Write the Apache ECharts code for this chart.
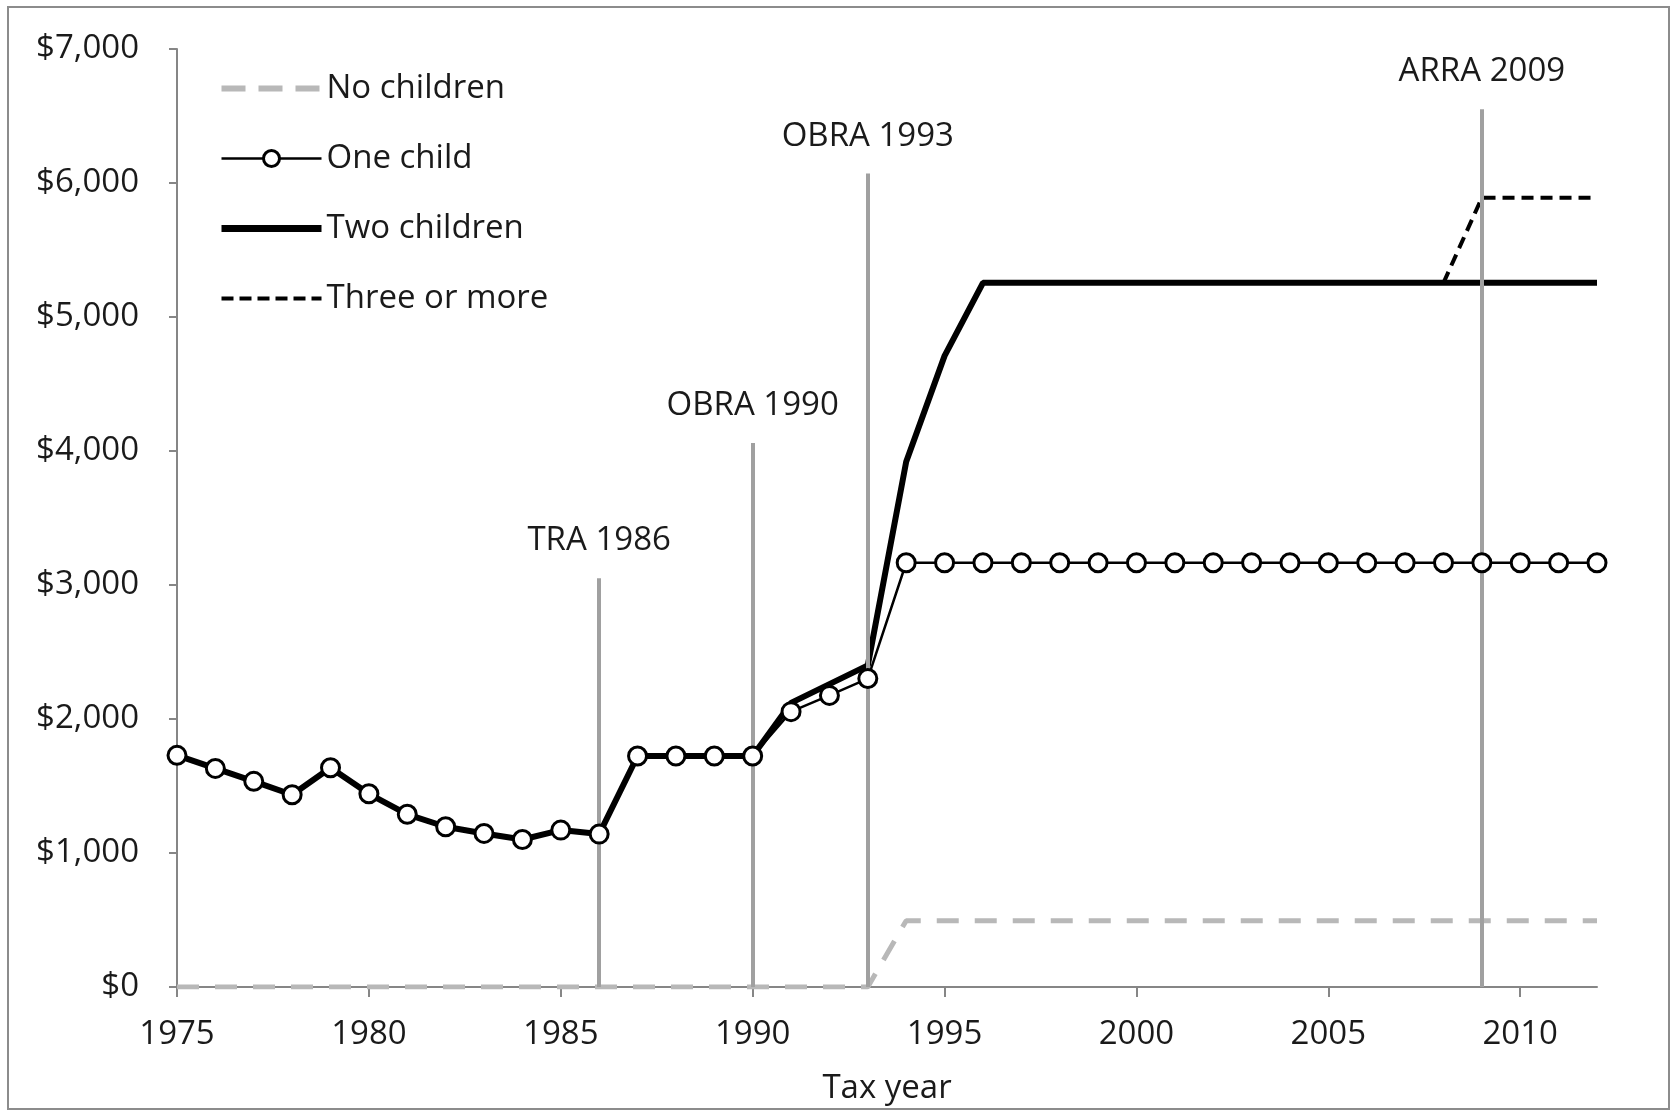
<!DOCTYPE html>
<html>
<head>
<meta charset="utf-8">
<title>EITC maximum credit by tax year</title>
<script src="https://cdn.jsdelivr.net/npm/echarts@6/dist/echarts.min.js"></script>
<style>
  html, body { margin: 0; padding: 0; background: #fff; }
  #main { width: 1675px; height: 1112px; }
</style>
</head>
<body>
<div id="main"></div>
<script>
// categories
let years = ["1975", "1976", "1977", "1978", "1979", "1980", "1981", "1982", "1983", "1984",
    "1985", "1986", "1987", "1988", "1989", "1990", "1991", "1992", "1993", "1994",
    "1995", "1996", "1997", "1998", "1999", "2000", "2001", "2002", "2003", "2004",
    "2005", "2006", "2007", "2008", "2009", "2010", "2011", "2012"];

// series values
let noChildren = [0, 0, 0, 0, 0, 0, 0, 0, 0, 0, 0, 0, 0, 0, 0, 0, 0, 0, 0,
    495, 495, 495, 495, 495, 495, 495, 495, 495, 495, 495, 495, 495, 495, 495, 495, 495, 495, 495];
let oneChild = [1729, 1631, 1535, 1435, 1636, 1442, 1289, 1196, 1146, 1101, 1171, 1141,
    1724, 1724, 1724, 1724, 2055, 2176, 2302,
    3166, 3166, 3166, 3166, 3166, 3166, 3166, 3166, 3166, 3166, 3166, 3166, 3166, 3166, 3166, 3166, 3166, 3166, 3166];
let twoChildren = [1729, 1631, 1535, 1435, 1636, 1442, 1289, 1196, 1146, 1101, 1171, 1141,
    1724, 1724, 1724, 1724, 2120, 2260, 2400, 3920, 4710,
    5255, 5255, 5255, 5255, 5255, 5255, 5255, 5255, 5255, 5255, 5255, 5255, 5255, 5255, 5255, 5255, 5255];
let threeOrMore = [null, null, null, null, null, null, null, null, null, null, null, null, null,
    null, null, null, null, null, null, null, null, null, null, null, null, null, null, null,
    null, null, null, null, null, 5255, 5890, 5890, 5890, 5890];

// legislation markers
let eventYears = ["1986", "1990", "1993", "2009"];
let eventTops = [3050, 4060, 6070, 6550];
let eventNames = ["TRA 1986", "OBRA 1990", "OBRA 1993", "ARRA 2009"];

// y axis ticks
let yMin = 0;
let yMax = 7000;
let yStep = 1000;

let font = "'Open Sans', 'DejaVu Sans', sans-serif";
let fontSize = 33;
let textColor = "#1a1a1a";
let axisGray = "#868686";

let dom = document.getElementById("main");
let myChart = echarts.init(dom, null, {
    renderer: "canvas",
    useDirtyRect: false,
});
let option;

let eventLines = eventYears.map(function (y, i) {
    return [
        { coord: [y, 0], name: eventNames[i] },
        { coord: [y, eventTops[i]] },
    ];
});

let everyFive = function (idx, val) {
    return Number(val) % 5 === 0;
};

option = {
    animation: false,
    backgroundColor: "#fff",
    textStyle: { fontFamily: font },
    graphic: [{
        type: "rect",
        shape: { x: 8, y: 7, width: 1661, height: 1102 },
        style: { fill: "none", stroke: "#8c8c8c", lineWidth: 2 },
        silent: true,
    }],
    grid: {
        left: 177,
        right: 78,
        top: 49,
        bottom: 125,
        outerBoundsMode: "none",
    },
    legend: {
        orient: "vertical",
        left: 213,
        top: 67,
        itemWidth: 100,
        itemHeight: 20,
        itemGap: 37,
        textStyle: { fontSize: fontSize, color: textColor, fontFamily: font },
        data: [
            {
                name: "No children",
                itemStyle: { opacity: 0 },
                lineStyle: { width: 6, color: "#b8b8b8", type: [24, 13] },
            },
            {
                name: "One child",
                itemStyle: { color: "#fff", borderColor: "#000", borderWidth: 3 },
                lineStyle: { width: 2.5, color: "#000" },
            },
            {
                name: "Two children",
                itemStyle: { opacity: 0 },
                lineStyle: { width: 7, color: "#000" },
            },
            {
                name: "Three or more",
                itemStyle: { opacity: 0 },
                lineStyle: { width: 4, color: "#000", type: [12, 6] },
            },
        ],
    },
    xAxis: {
        type: "category",
        data: years,
        boundaryGap: false,
        name: "Tax year",
        nameLocation: "middle",
        nameGap: 85,
        nameTextStyle: { fontSize: fontSize, color: textColor, fontFamily: font },
        axisLine: { lineStyle: { color: axisGray, width: 2 } },
        axisTick: {
            interval: everyFive,
            length: 10,
            lineStyle: { color: axisGray, width: 2 },
        },
        axisLabel: {
            interval: everyFive,
            margin: 31,
            fontSize: fontSize,
            color: textColor,
            fontFamily: font,
        },
        splitLine: { show: false },
    },
    yAxis: {
        type: "value",
        min: yMin,
        max: yMax,
        interval: yStep,
        axisLine: { show: true, lineStyle: { color: axisGray, width: 2 } },
        axisTick: { show: true, length: 8, lineStyle: { color: axisGray, width: 2 } },
        axisLabel: {
            margin: 38,
            fontSize: fontSize,
            color: textColor,
            fontFamily: font,
            formatter: function (v) {
                return "$" + v.toLocaleString("en-US");
            },
        },
        splitLine: { show: false },
    },
    series: [
        {
            name: "No children",
            type: "line",
            data: noChildren,
            symbol: "none",
            z: 2,
            color: "#b8b8b8",
            lineStyle: { color: "#b8b8b8", width: 5, type: [22, 16] },
        },
        {
            name: "Three or more",
            type: "line",
            data: threeOrMore,
            symbol: "none",
            z: 3,
            color: "#000",
            lineStyle: { color: "#000", width: 4, type: [12, 7] },
        },
        {
            name: "Two children",
            type: "line",
            data: twoChildren,
            symbol: "none",
            z: 4,
            color: "#000",
            lineStyle: { color: "#000", width: 6 },
        },
        {
            name: "One child",
            type: "line",
            data: oneChild,
            symbol: "circle",
            symbolSize: 18,
            z: 5,
            color: "#000",
            itemStyle: { color: "#fff", borderColor: "#000", borderWidth: 3 },
            lineStyle: { color: "#000", width: 2.5 },
        },
        {
            name: "Legislation",
            type: "line",
            data: [],
            z: 6,
            markLine: {
                silent: true,
                symbol: ["none", "none"],
                lineStyle: { color: "#a0a0a0", width: 4, type: "solid" },
                label: {
                    show: true,
                    position: "end",
                    distance: 21,
                    fontSize: fontSize,
                    color: textColor,
                    fontFamily: font,
                    formatter: function (p) {
                        return p.name;
                    },
                },
                data: eventLines,
            },
        },
    ],
};

if (option && typeof option === "object") {
    myChart.setOption(option);
}

window.addEventListener("resize", myChart.resize);
</script>
</body>
</html>
